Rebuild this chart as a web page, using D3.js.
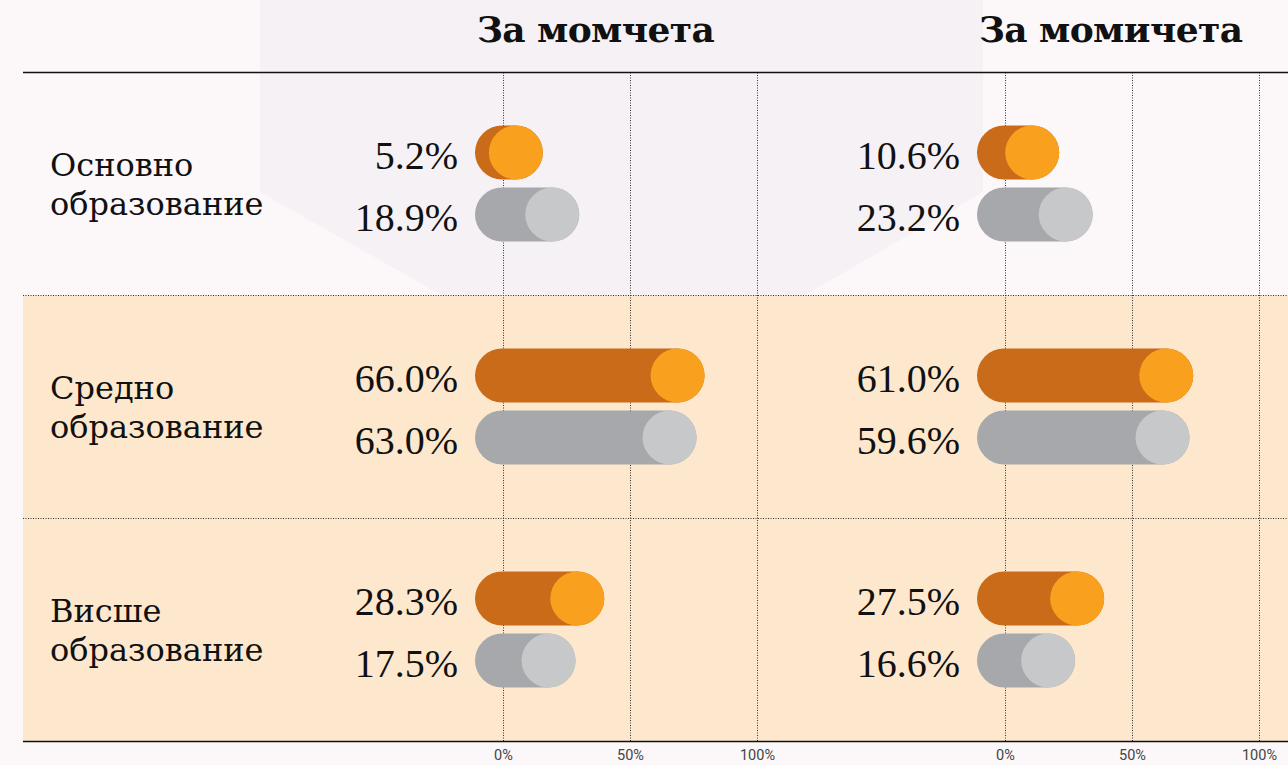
<!DOCTYPE html>
<html lang="bg">
<head>
<meta charset="utf-8">
<title>Образование</title>
<script src="https://cdn.jsdelivr.net/npm/d3@7"></script>
<style>
  html, body { margin: 0; padding: 0; background: #fcf7f9; }
  svg { display: block; }
  .grid line { stroke: #333; stroke-dasharray: 1,1.5; }
  .grid text { font-family: Roboto, "Liberation Sans", sans-serif; font-size: 14.5px; fill: #444; }
</style>
</head>
<body>
<script>
// data
var panels = ["За момчета", "За момичета"];
var categories = ["Основно образование", "Средно образование", "Висше образование"];
var categoryLines = [["Основно", "образование"], ["Средно", "образование"], ["Висше", "образование"]];
var series = ["top", "bottom"];
var boysTop = [5.2, 66.0, 28.3];
var boysBottom = [18.9, 63.0, 17.5];
var girlsTop = [10.6, 61.0, 27.5];
var girlsBottom = [23.2, 59.6, 16.6];
var ticks = [0, 50, 100];

var w = 1288, h = 765;
var top0 = 72, bottom0 = 741;
var r = 27;

var colors = {
  top: { dark: "#c96b18", light: "#f9a11f" },
  bottom: { dark: "#a7a8ab", light: "#c7c8ca" }
};

var rows = [];
categories.forEach(function (c, i) {
  rows.push({ panel: panels[0], cat: c, s: "top", v: boysTop[i] });
  rows.push({ panel: panels[0], cat: c, s: "bottom", v: boysBottom[i] });
  rows.push({ panel: panels[1], cat: c, s: "top", v: girlsTop[i] });
  rows.push({ panel: panels[1], cat: c, s: "bottom", v: girlsBottom[i] });
});

var svg = d3.select("body").append("svg")
  .attr("width", w)
  .attr("height", h);

// scales
var y = d3.scaleBand().domain(categories).range([top0, bottom0]);
var ys = d3.scalePoint().domain(series).range([-31, 31]);
var panelX = d3.scaleBand().domain(panels).range([503, 1507]);
var x = d3.scaleLinear().domain([0, 100]).range([0, 254]);
var barLen = d3.scaleLinear().domain([0, 100]).range([0, 266]);

// background decoration
svg.append("polygon")
  .attr("points", "260,0 983,0 983,192 805,295 441,295 260,192")
  .attr("fill", "#f6f1f5");

// beige bands
svg.selectAll("rect.band")
  .data(categories.slice(1))
  .enter().append("rect")
  .attr("class", "band")
  .attr("x", 23)
  .attr("y", function (d) { return y(d); })
  .attr("width", w - 23)
  .attr("height", y.bandwidth())
  .attr("fill", "#fde8cd");

// row separators
svg.selectAll("line.sep")
  .data(categories.slice(1))
  .enter().append("line")
  .attr("class", "sep")
  .attr("x1", 23).attr("x2", w)
  .attr("y1", function (d) { return Math.round(y(d)) + 0.5; })
  .attr("y2", function (d) { return Math.round(y(d)) + 0.5; })
  .attr("stroke", "#333")
  .attr("stroke-dasharray", "1,1.5");

// gridlines + tick labels
panels.forEach(function (p) {
  var g = svg.append("g")
    .attr("class", "grid")
    .attr("transform", "translate(" + panelX(p) + "," + bottom0 + ")")
    .call(d3.axisBottom(x)
      .tickValues(ticks)
      .tickFormat(function (d) { return d + "%"; })
      .tickSize(-(bottom0 - top0))
      .tickPadding(9));
  g.select(".domain").remove();
});

// solid top/bottom rules
[top0, bottom0].forEach(function (yy) {
  svg.append("line")
    .attr("x1", 23).attr("x2", w)
    .attr("y1", yy + 0.5).attr("y2", yy + 0.5)
    .attr("stroke", "#111")
    .attr("stroke-width", 1.3);
});

// panel headers
svg.selectAll("text.head")
  .data(panels)
  .enter().append("text")
  .attr("class", "head")
  .attr("x", function (d) { return panelX(d) - 26; })
  .attr("y", 42)
  .attr("font-family", "'DejaVu Serif', serif")
  .attr("font-weight", "bold")
  .attr("font-size", "36px")
  .attr("letter-spacing", "-0.6px")
  .attr("fill", "#111")
  .text(function (d) { return d; });

// category labels
var cl = svg.selectAll("text.cat")
  .data(categories)
  .enter().append("text")
  .attr("class", "cat")
  .attr("x", 50)
  .attr("y", function (d) { return y(d) + y.bandwidth() / 2 - 7.5; })
  .attr("font-family", "'DejaVu Serif', serif")
  .attr("font-size", "32px")
  .attr("fill", "#111");
cl.selectAll("tspan")
  .data(function (d, i) { return categoryLines[i]; })
  .enter().append("tspan")
  .attr("x", 50)
  .attr("dy", function (d, i) { return i === 0 ? 0 : 39; })
  .text(function (d) { return d; });

// bars
var cy = function (d) { return y(d.cat) + y.bandwidth() / 2 + ys(d.s); };

var bars = svg.selectAll("g.bar")
  .data(rows)
  .enter().append("g")
  .attr("class", "bar");

bars.append("rect")
  .attr("x", function (d) { return panelX(d.panel) - r - 1; })
  .attr("y", function (d) { return cy(d) - r; })
  .attr("width", function (d) { return 2 * r + barLen(d.v); })
  .attr("height", 2 * r)
  .attr("rx", r)
  .attr("fill", function (d) { return colors[d.s].dark; });

bars.append("circle")
  .attr("cx", function (d) { return panelX(d.panel) - 1 + barLen(d.v); })
  .attr("cy", cy)
  .attr("r", r)
  .attr("fill", function (d) { return colors[d.s].light; });

bars.append("text")
  .attr("x", function (d) { return panelX(d.panel) - 45; })
  .attr("y", function (d) { return cy(d) + 16; })
  .attr("text-anchor", "end")
  .attr("font-family", "'Liberation Serif', serif")
  .attr("font-size", "40px")
  .attr("fill", "#111")
  .text(function (d) { return d.v.toFixed(1) + "%"; });
</script>
</body>
</html>
